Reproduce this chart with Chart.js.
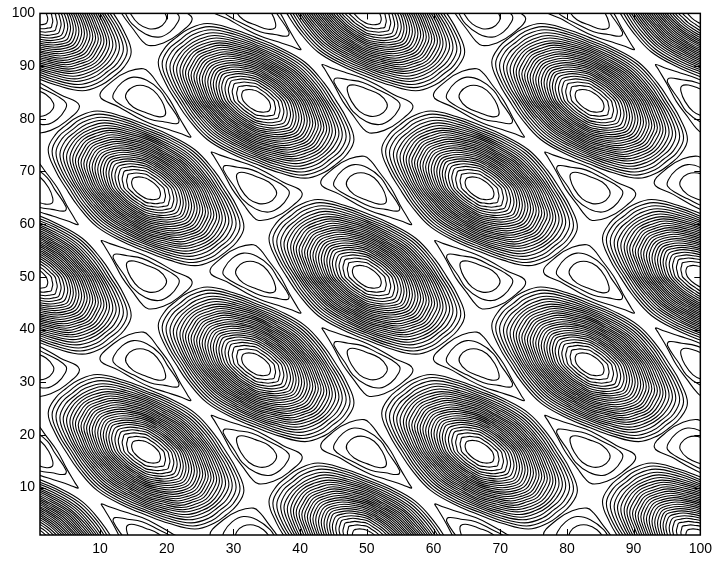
<!DOCTYPE html>
<html lang="en">
<head>
    <meta charset="UTF-8">
    <title>Contour plot</title>
    <style>
        body { margin: 0; background: #fff; }
    </style>
</head>
<body>
    <canvas id="myChart" width="718" height="562"></canvas>

    <script src="https://cdn.jsdelivr.net/npm/chart.js"></script>

    <script>
    const xTickValues = [10, 20, 30, 40, 50, 60, 70, 80, 90, 100];
    const yTickValues = [10, 20, 30, 40, 50, 60, 70, 80, 90, 100];

    // peak centres
    const peakX = [0, 50, 100, 16.9, 66.9, 33.4, 83.4, 0, 50, 100, 16.9, 66.9, 33.4, 83.4, 0, 50, 100];
    const peakY = [0, 0, 0, 16.8, 16.8, 33.4, 33.4, 50, 50, 50, 66.8, 66.8, 83.4, 83.4, 100, 100, 100];

    // directions from a peak to the six valleys and six saddles around it, with the rays between them
    const rayX = [0, 4.17, 8.33, 12.5, 16.67, 16.67, 16.67, 16.67, 16.67, 12.5, 8.33, 4.17,
                  0, -4.17, -8.33, -12.5, -16.67, -16.67, -16.67, -16.67, -16.67, -12.5, -8.33, -4.17];
    const rayY = [16.67, 12.5, 8.33, 4.17, 0, -4.17, -8.33, -12.5, -16.67, -16.67, -16.67, -16.67,
                  -16.67, -12.5, -8.33, -4.17, 0, 4.17, 8.33, 12.5, 16.67, 16.67, 16.67, 16.67];

    // how far each ring reaches along those rays, estimated; the dense middle rings cannot be separated by eye
    const ringValley = [0.115, 0.16, 0.195, 0.225, 0.25, 0.275, 0.3, 0.32, 0.34, 0.36, 0.38, 0.4, 0.42, 0.44,
                        0.46, 0.48, 0.5, 0.52, 0.54, 0.56, 0.58, 0.6, 0.62, 0.64, 0.665, 0.69, 0.72];
    const ringBetween = [0.125, 0.168, 0.206, 0.24, 0.27, 0.298, 0.323, 0.347, 0.37, 0.393, 0.416, 0.44, 0.46, 0.483,
                         0.505, 0.526, 0.549, 0.57, 0.595, 0.62, 0.645, 0.67, 0.695, 0.725, 0.755, 0.785, 0.815];
    const ringSaddle = [0.13, 0.175, 0.215, 0.25, 0.28, 0.31, 0.335, 0.36, 0.385, 0.41, 0.435, 0.46, 0.485, 0.51,
                        0.535, 0.56, 0.585, 0.61, 0.635, 0.66, 0.685, 0.715, 0.745, 0.775, 0.81, 0.845, 0.88];

    // valley centres; the second kind is the first one turned upside down
    const valleyAX = [33.4, 83.4, 0, 50, 100, 16.9, 66.9, 33.4, 83.4, 0, 50, 100, 16.9, 66.9, 33.4, 83.4];
    const valleyAY = [0, 0, 16.8, 16.8, 16.8, 33.4, 33.4, 50, 50, 66.8, 66.8, 66.8, 83.4, 83.4, 100, 100];
    const valleyBX = [16.9, 66.9, 33.4, 83.4, 0, 50, 100, 16.9, 66.9, 33.4, 83.4, 0, 50, 100, 16.9, 66.9];
    const valleyBY = [0, 0, 16.8, 16.8, 33.4, 33.4, 33.4, 50, 50, 66.8, 66.8, 83.4, 83.4, 83.4, 100, 100];

    const valleyInnerX = [-0.4, -1.9, -2.9, -3.0, -1.9, 0.1, 1.8, 2.8, 2.9, 2.3, 1.1];
    const valleyInnerY = [2.9, 2.7, 1.6, 0.4, -1.2, -2.3, -3.0, -2.8, -1.8, 0.1, 2.0];
    const valleyMiddleX = [-1.9, -3.6, -4.8, -4.9, -3.6, -1.9, 0.6, 2.8, 4.7, 4.9, 3.2, 2.1, 0.1];
    const valleyMiddleY = [4.5, 3.5, 1.6, 0.4, -0.9, -2.0, -3.5, -4.0, -4.3, -3.5, -0.2, 2.0, 3.9];
    const valleyOuterX = [-6.9, -4.9, -2.6, -0.4, 0.6, 1.8, 3.6, 5.0, 6.3, 6.7, 5.4, 3.0, 0.6, -1.4, -4.0];
    const valleyOuterY = [0.9, 3.9, 5.6, 6.1, 5.2, 3.2, 0.1, -3.2, -6.0, -6.9, -6.3, -5.3, -4.3, -3.1, -1.2];

    const ctx = document.getElementById('myChart');
    let datasets = [];

    function addRing(points) {
        // overlap the ends and hide the two extra pieces, so the curve has no kink where it closes
        let n = points.length;
        datasets.push({
            data: [points[n - 1], ...points, points[0], points[1]],
            showLine: true,
            pointRadius: 0,
            borderColor: '#000',
            borderWidth: 1.1,
            tension: 0.4,
            capBezierPoints: false,
            segment: {
                borderColor: c => (c.p0DataIndex == 0 || c.p0DataIndex == n + 1) ? 'rgba(0,0,0,0)' : undefined
            }
        });
    }

    peakX.forEach((px, p) => {
        ringSaddle.forEach((s, r) => {
            let points = rayX.map((dx, i) => {
                let f = i % 4 == 0 ? ringValley[r] : (i % 4 == 2 ? s : ringBetween[r]);
                return { x: px + dx * f, y: peakY[p] + rayY[i] * f };
            });
            addRing(points);
        });
    });

    function addValley(cx, cy, sign) {
        [[valleyInnerX, valleyInnerY], [valleyMiddleX, valleyMiddleY], [valleyOuterX, valleyOuterY]].forEach(shape => {
            addRing(shape[0].map((dx, i) => ({ x: cx + sign * dx, y: cy + sign * shape[1][i] })));
        });
    }
    valleyAX.forEach((vx, i) => addValley(vx, valleyAY[i], 1));
    valleyBX.forEach((vx, i) => addValley(vx, valleyBY[i], -1));

    // box and inward tick marks on all four sides
    const boxPlugin = {
        id: 'box',
        afterDatasetsDraw(chart) {
            const c = chart.ctx, a = chart.chartArea;
            c.save();
            c.strokeStyle = '#000';
            c.lineWidth = 1;
            c.beginPath();
            xTickValues.forEach(v => {
                let p = Math.round(chart.scales.x.getPixelForValue(v)) + 0.5;
                c.moveTo(p, a.bottom); c.lineTo(p, a.bottom - 6);
                c.moveTo(p, a.top); c.lineTo(p, a.top + 6);
            });
            yTickValues.forEach(v => {
                let p = Math.round(chart.scales.y.getPixelForValue(v)) + 0.5;
                c.moveTo(a.left, p); c.lineTo(a.left + 6, p);
                c.moveTo(a.right, p); c.lineTo(a.right - 6, p);
            });
            c.stroke();
            c.lineWidth = 1.5;
            c.strokeRect(a.left, a.top, a.right - a.left, a.bottom - a.top);
            c.restore();
        }
    };

    new Chart(ctx, {
        type: 'scatter',
        data: { datasets: datasets },
        plugins: [boxPlugin],
        options: {
            responsive: false,
            animation: false,
            events: [],
            layout: { padding: { top: 13, right: 17, left: 0, bottom: 0 } },
            plugins: { legend: { display: false }, tooltip: { enabled: false } },
            scales: {
                x: {
                    type: 'linear',
                    min: 1,
                    max: 100,
                    grid: { display: false, drawTicks: false },
                    border: { display: false },
                    afterBuildTicks: s => { s.ticks = xTickValues.map(v => ({ value: v })); },
                    afterFit: s => { s.height = 27; },
                    ticks: { color: '#000', padding: 6, maxRotation: 0, autoSkip: false, font: { family: 'Liberation Sans', size: 14 } }
                },
                y: {
                    type: 'linear',
                    min: 1,
                    max: 100,
                    grid: { display: false, drawTicks: false },
                    border: { display: false },
                    afterBuildTicks: s => { s.ticks = yTickValues.map(v => ({ value: v })); },
                    afterFit: s => { s.width = 40; },
                    ticks: { color: '#000', padding: 5, autoSkip: false, font: { family: 'Liberation Sans', size: 14 } }
                }
            }
        }
    });
    </script>
</body>
</html>
